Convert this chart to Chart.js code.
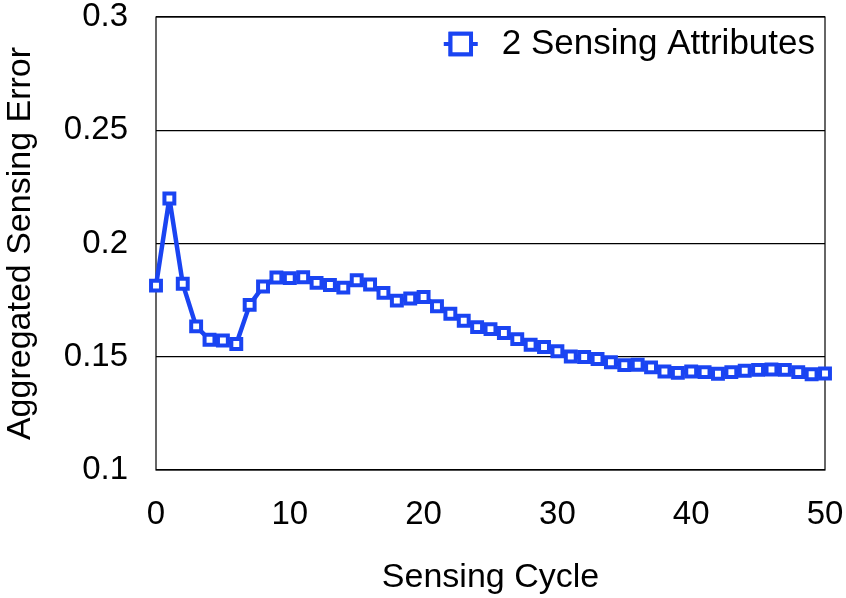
<!DOCTYPE html>
<html>
<head>
<meta charset="utf-8">
<script src="https://cdn.jsdelivr.net/npm/chart.js@4.4.0/dist/chart.umd.min.js"></script>
<style>
  html, body { margin: 0; padding: 0; background: #fff; }
  #wrap { width: 846px; height: 598px; }
</style>
</head>
<body>
<div id="wrap"><canvas id="chart"></canvas></div>
<script>
// Sensing cycles (x axis)
var cycles = [0, 1, 2, 3, 4, 5, 6, 7, 8, 9, 10, 11, 12, 13, 14, 15, 16, 17, 18, 19, 20,
              21, 22, 23, 24, 25, 26, 27, 28, 29, 30, 31, 32, 33, 34, 35, 36, 37, 38, 39, 40,
              41, 42, 43, 44, 45, 46, 47, 48, 49, 50];

// Aggregated sensing error
var errors = [0.1814, 0.2199, 0.1822, 0.1634, 0.1575, 0.1572, 0.1556, 0.1729, 0.1810, 0.1850,
              0.1847, 0.1851, 0.1826, 0.1817, 0.1805, 0.1838, 0.1819, 0.1782, 0.1748, 0.1757,
              0.1764, 0.1723, 0.1690, 0.1659, 0.1631, 0.1622, 0.1605, 0.1578, 0.1553, 0.1543,
              0.1524, 0.1501, 0.1499, 0.1490, 0.1476, 0.1463, 0.1465, 0.1453, 0.1435, 0.1429,
              0.1435, 0.1432, 0.1425, 0.1432, 0.1438, 0.1442, 0.1444, 0.1442, 0.1432, 0.1423,
              0.1426];

var seriesLabel = '2 Sensing Attributes';
var xTicks = [0, 10, 20, 30, 40, 50];
var yTicks = [0.1, 0.15, 0.2, 0.25, 0.3];

var blue = '#1a44f2';

Chart.defaults.font.family = '"Liberation Sans", Arial, Helvetica, sans-serif';
Chart.defaults.color = '#000';

/**
 * Draws the box round the plot area
 */
var framePlugin = {
    id: 'frame',
    beforeDatasetsDraw: function (chart) {
        var a = chart.chartArea;
        var ctx = chart.ctx;
        ctx.save();
        ctx.strokeStyle = '#000';
        ctx.lineWidth = 1.2;
        ctx.strokeRect(a.left, a.top, a.right - a.left, a.bottom - a.top);
        ctx.restore();
    }
};

/**
 * Legend drawn inside the plot, top right
 */
var innerLegend = {
    id: 'innerLegend',
    afterDraw: function (chart) {
        var a = chart.chartArea;
        var ctx = chart.ctx;
        var ds = chart.data.datasets[0];
        ctx.save();
        ctx.font = '35px "Liberation Sans", Arial, sans-serif';
        ctx.textAlign = 'right';
        ctx.textBaseline = 'middle';
        ctx.fillStyle = '#000';
        var tx = a.right - 10;
        var ty = a.top + 27;
        ctx.fillText(ds.label, tx, ty);
        var w = ctx.measureText(ds.label).width;
        var mx = tx - w - 41;
        ctx.strokeStyle = ds.borderColor;
        ctx.lineWidth = 4;
        ctx.beginPath();
        ctx.moveTo(mx - 17, ty);
        ctx.lineTo(mx + 17, ty);
        ctx.stroke();
        Chart.helpers.drawPoint(ctx, {
            pointStyle: 'rect',
            radius: 14.5,
            borderWidth: 4
        }, mx, ty);
        ctx.fillStyle = '#fff';
        ctx.fill();
        ctx.stroke();
        ctx.restore();
    }
};

var points = [];
for (var i = 0; i < cycles.length; i++) {
    points.push({x: cycles[i], y: errors[i]});
}

var ctx = document.getElementById('chart').getContext('2d');
var chart = new Chart(ctx, {
    type: 'line',
    data: {
        datasets: [{
            label: seriesLabel,
            data: points,
            borderColor: blue,
            backgroundColor: '#fff',
            borderWidth: 4.5,
            borderJoinStyle: 'round',
            pointStyle: 'rect',
            pointRadius: 7,
            pointBorderWidth: 4,
            pointBackgroundColor: '#fff',
            pointBorderColor: blue,
            tension: 0,
            clip: false
        }]
    },
    options: {
        responsive: true,
        maintainAspectRatio: false,
        animation: false,
        layout: {padding: {left: 0, right: 21, top: 17, bottom: 0}},
        plugins: {
            legend: {display: false},
            tooltip: {enabled: false}
        },
        scales: {
            x: {
                type: 'linear',
                min: 0,
                max: 50,
                afterFit: function (scale) {
                    scale.height = 128;
                    scale.paddingLeft = 0;
                    scale.paddingRight = 0;
                },
                afterBuildTicks: function (scale) {
                    scale.ticks = xTicks.map(function (v) { return {value: v}; });
                },
                grid: {display: false, drawTicks: false},
                border: {display: false},
                ticks: {font: {size: 33}, padding: 25, maxRotation: 0},
                title: {
                    display: true,
                    text: 'Sensing Cycle',
                    font: {size: 34},
                    padding: 0
                }
            },
            y: {
                min: 0.1,
                max: 0.3,
                afterFit: function (scale) {
                    scale.width = 156;
                    scale.paddingTop = 0;
                    scale.paddingBottom = 0;
                },
                afterBuildTicks: function (scale) {
                    scale.ticks = yTicks.map(function (v) { return {value: v}; });
                },
                grid: {color: '#000', lineWidth: 1.2, drawTicks: false},
                border: {display: false},
                ticks: {
                    font: {size: 33},
                    padding: 28,
                    callback: function (v) { return String(+v.toFixed(2)); }
                },
                title: {
                    display: true,
                    text: 'Aggregated Sensing Error',
                    font: {size: 34},
                    padding: {top: 0, bottom: 0}
                }
            }
        }
    },
    plugins: [framePlugin, innerLegend]
});
</script>
</body>
</html>
